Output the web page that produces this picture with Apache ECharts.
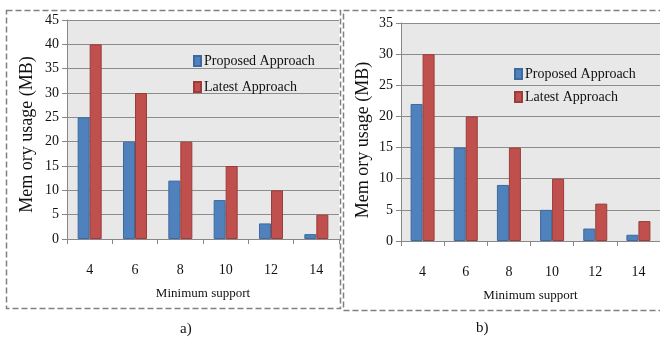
<!DOCTYPE html>
<html>
<head>
<meta charset="utf-8">
<script src="https://cdn.jsdelivr.net/npm/echarts@6/dist/echarts.min.js"></script>
<style>
  html, body { margin: 0; padding: 0; background: #fff; }
  #main { width: 660px; height: 338px; }
</style>
</head>
<body>
<div id="main"></div>
<script>
var supports = ['4', '6', '8', '10', '12', '14'];
var seriesNames = ['Proposed Approach', 'Latest Approach'];
// chart a)
var proposedA = [25, 20, 12, 8, 3.2, 1];
var latestA = [40, 30, 20, 15, 10, 5];
// chart b)
var proposedB = [22, 15, 9, 5, 2, 1];
var latestB = [30, 20, 15, 10, 6, 3.2];

var font = 'Liberation Serif';
var blue = '#4F81BD', red = '#C0504D';

var chart = echarts.init(document.getElementById('main'));

function xAxisOf(idx) {
    return {
        type: 'category',
        gridIndex: idx,
        data: supports,
        name: 'Minimum support',
        nameLocation: 'middle',
        nameGap: 48,
        nameTextStyle: { fontFamily: font, fontSize: 13, color: '#111' },
        axisLine: { lineStyle: { color: '#888' } },
        axisTick: { show: true, length: 5, lineStyle: { color: '#888' } },
        axisLabel: { margin: 24, fontFamily: font, fontSize: 14, color: '#111' }
    };
}

function yAxisOf(idx, max, gap, shift) {
    return {
        type: 'value',
        gridIndex: idx,
        min: 0,
        max: max,
        interval: 5,
        name: 'Mem ory usage (MB)',
        nameLocation: 'middle',
        nameRotate: 90,
        nameGap: gap,
        nameTextStyle: { fontFamily: font, fontSize: 18, color: '#111', padding: [0, shift, 0, 0] },
        axisLine: { show: true, lineStyle: { color: '#888' } },
        axisTick: { show: true, length: 5, lineStyle: { color: '#888' } },
        axisLabel: { margin: 8, fontFamily: font, fontSize: 14, color: '#111' },
        splitLine: { lineStyle: { color: '#8c8c8c' } }
    };
}

function barOf(name, data, idx, color, border) {
    return {
        type: 'bar',
        name: name,
        data: data,
        xAxisIndex: idx,
        yAxisIndex: idx,
        barWidth: 12,
        barGap: '0%',
        itemStyle: { color: color, borderColor: border, borderWidth: 1 }
    };
}

var option = {
    animation: false,
    backgroundColor: '#fff',
    grid: [
        { left: 67, top: 20, width: 272, height: 219, show: true, backgroundColor: '#e8e8e8', borderWidth: 0 },
        { left: 401, top: 23, width: 262, height: 218, show: true, backgroundColor: '#e8e8e8', borderWidth: 0 }
    ],
    xAxis: [xAxisOf(0), xAxisOf(1)],
    yAxis: [yAxisOf(0, 45, 31, 10), yAxisOf(1, 35, 29, 16)],
    legend: [
        {
            data: seriesNames,
            orient: 'vertical',
            icon: 'rect',
            left: 188, top: 49,
            itemWidth: 7, itemHeight: 10, itemGap: 12,
            textStyle: { fontFamily: font, fontSize: 14, color: '#111', padding: [0, 0, 0, -2] }
        },
        {
            data: seriesNames,
            orient: 'vertical',
            icon: 'rect',
            left: 509, top: 62,
            itemWidth: 7, itemHeight: 10, itemGap: 9,
            textStyle: { fontFamily: font, fontSize: 14, color: '#111', padding: [0, 0, 0, -2] }
        }
    ],
    series: [
        barOf(seriesNames[0], proposedA, 0, blue, '#3d6a9e'),
        barOf(seriesNames[1], latestA, 0, red, '#9b3c3a'),
        barOf(seriesNames[0], proposedB, 1, blue, '#3d6a9e'),
        barOf(seriesNames[1], latestB, 1, red, '#9b3c3a')
    ],
    graphic: [
        { type: 'rect', shape: { x: 6.5, y: 10.5, width: 334, height: 298 },
          style: { fill: null, stroke: '#808080', lineWidth: 1.5, lineDash: [6, 3] }, z: 10 },
        { type: 'rect', shape: { x: 343.5, y: 10.5, width: 330, height: 300 },
          style: { fill: null, stroke: '#808080', lineWidth: 1.5, lineDash: [6, 3] }, z: 10 },
        { type: 'text', left: 180, top: 322,
          style: { text: 'a)', fontFamily: font, fontSize: 15, fill: '#111' } },
        { type: 'text', left: 476, top: 321,
          style: { text: 'b)', fontFamily: font, fontSize: 15, fill: '#111' } }
    ]
};
chart.setOption(option);
</script>
</body>
</html>
